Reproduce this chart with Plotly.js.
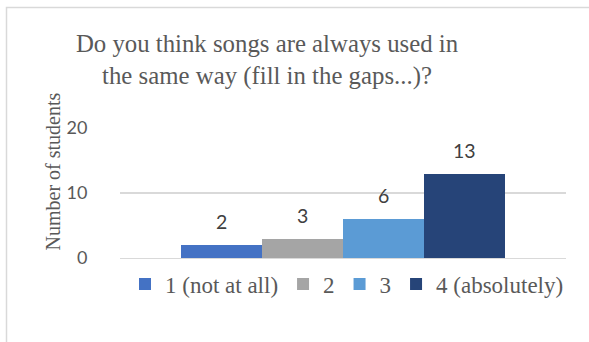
<!DOCTYPE html>
<html>
<head>
<meta charset="utf-8">
<script src="https://cdn.plot.ly/plotly-3.0.1.min.js"></script>
<style>
  html, body { margin: 0; padding: 0; background: #ffffff; }
  #chart { width: 589px; height: 342px; }
</style>
</head>
<body>
<div id="chart"></div>
<script>
// Survey answers: how many students chose each rating
const categories = ['1 (not at all)', '2', '3', '4 (absolutely)'];
const counts = [2, 3, 6, 13];
const colors = ['#4472C4', '#A5A5A5', '#5B9BD5', '#264478'];
const yTicks = [0, 10, 20];

const serif = '"Liberation Serif", "Times New Roman", serif';
const sans = 'Lato, Carlito, Calibri, sans-serif';
const textGray = '#595959';

// One bar per rating, each in its own slot so the bars sit side by side
const traces = categories.map((c, i) => ({
  type: 'bar',
  x: [c],
  y: [counts[i]],
  name: c,
  marker: { color: colors[i], line: { width: 0 } },
  hoverinfo: 'skip'
}));

// Value labels above each bar (x given as the category index)
const valueLabels = categories.map((c, i) => ({
  x: i,
  y: counts[i],
  xref: 'x',
  yref: 'y',
  text: String(counts[i]),
  showarrow: false,
  xanchor: 'center',
  yanchor: 'bottom',
  yshift: 10,
  font: { family: sans, size: 19.5, color: '#404040' }
}));

const W = 589, H = 342;
const m = { l: 120, r: 23, t: 128, b: 84 };
const pw = W - m.l - m.r, ph = H - m.t - m.b;
const px = v => (v - m.l) / pw;          // page x -> paper x
const py = v => (H - m.b - v) / ph;      // page y -> paper y

const layout = {
  width: W,
  height: H,
  margin: m,
  paper_bgcolor: '#ffffff',
  plot_bgcolor: '#ffffff',
  barmode: 'overlay',
  bargap: 0,
  showlegend: true,
  title: {
    text: 'Do you think songs are always used in<br>the same way (fill in the gaps...)?',
    font: { family: serif, size: 24.8, color: textGray },
    xref: 'container',
    yref: 'container',
    x: 267 / W,
    xanchor: 'center',
    y: 1 - 52 / H,
    yanchor: 'top'
  },
  xaxis: {
    type: 'category',
    categoryorder: 'array',
    categoryarray: categories,
    range: [-1.253, 4.253],
    showticklabels: false,
    showgrid: false,
    zeroline: false,
    showline: true,
    linecolor: '#d9d9d9',
    linewidth: 1.3,
    ticks: '',
    fixedrange: true
  },
  yaxis: {
    range: [0, 20],
    tickvals: yTicks,
    ticktext: yTicks.map(String),
    showgrid: true,
    gridcolor: '#d9d9d9',
    gridwidth: 1.3,
    zeroline: false,
    showline: false,
    ticks: 'outside',
    ticklen: 8,
    tickcolor: 'rgba(0,0,0,0)',
    ticklabelstandoff: 20,
    tickfont: { family: sans, size: 18, color: textGray },
    fixedrange: true
  },
  legend: {
    orientation: 'h',
    x: px(347),
    xanchor: 'center',
    y: py(284),
    yanchor: 'middle',
    font: { family: serif, size: 23, color: textGray },
    bgcolor: 'rgba(0,0,0,0)',
    itemclick: false,
    itemdoubleclick: false
  },
  annotations: valueLabels.concat([{
    text: 'Number of students',
    xref: 'paper',
    yref: 'paper',
    x: px(52),
    y: py(171.5),
    xanchor: 'center',
    yanchor: 'middle',
    textangle: -90,
    showarrow: false,
    font: { family: serif, size: 20, color: textGray }
  }]),
  shapes: [{
    type: 'rect',
    xref: 'paper',
    yref: 'paper',
    x0: px(6.5), x1: px(700),
    y0: py(600), y1: py(7.5),
    line: { color: '#d9d9d9', width: 1.5 },
    fillcolor: 'rgba(0,0,0,0)',
    layer: 'below'
  }]
};

Plotly.newPlot('chart', traces, layout, { staticPlot: true, displayModeBar: false });
</script>
</body>
</html>
